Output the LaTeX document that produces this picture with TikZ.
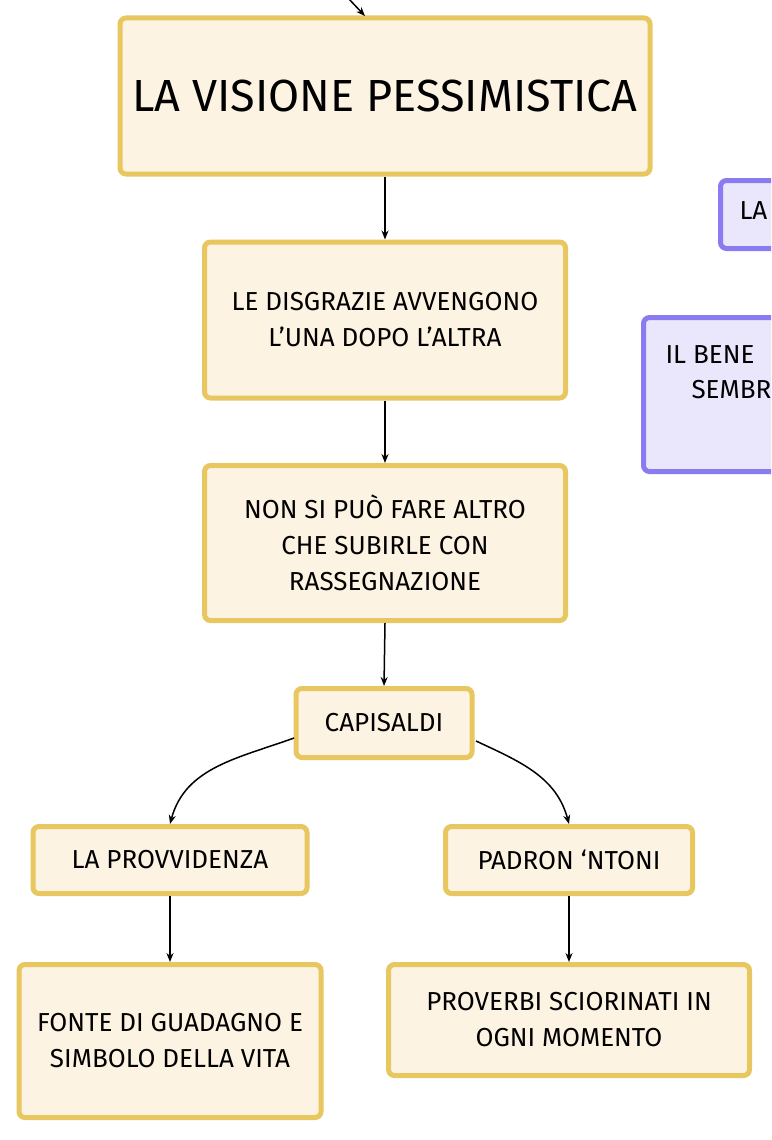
\documentclass[tikz,border=0pt]{standalone}
\usetikzlibrary{arrows.meta}
\usepackage{fontspec}
\setmainfont{Fira Sans}
\begin{document}
\begin{tikzpicture}[x=1pt,y=-1pt,
 box/.style={draw=boxline,fill=boxfill,line width=5pt,rounded corners=6pt,align=center,font=\fontsize{26}{36}\selectfont,inner sep=0pt},
 pbox/.style={draw=pline,fill=pfill,line width=5pt,rounded corners=6pt},
 arr/.style={-{Stealth[length=9pt,width=7pt]},line width=1.5pt}]
\definecolor{boxline}{HTML}{E8C660}
\definecolor{boxfill}{HTML}{FDF3E3}
\definecolor{pline}{HTML}{8B7BF0}
\definecolor{pfill}{HTML}{EAE6FB}
\useasboundingbox (0,0) rectangle (771,1140);
\clip (0,0) rectangle (771,1140);
\node[box,minimum width=530pt,minimum height=156pt,font=\fontsize{45}{50}\selectfont] (t) at (385,96) {LA VISIONE PESSIMISTICA};
\node[box,minimum width=361pt,minimum height=156pt] (b2) at (385,320) {LE DISGRAZIE AVVENGONO\\L'UNA DOPO L'ALTRA};
\node[box,minimum width=361pt,minimum height=155pt] (b3) at (385,543) {NON SI PUÒ FARE ALTRO\\CHE SUBIRLE CON\\RASSEGNAZIONE};
\node[box,minimum width=176pt,minimum height=69pt] (c) at (384,723) {CAPISALDI};
\node[box,minimum width=274pt,minimum height=67pt] (p) at (170,860) {LA PROVVIDENZA};
\node[box,minimum width=247pt,minimum height=67pt] (n) at (569,860) {PADRON ‘NTONI};
\node[box,minimum width=302pt,minimum height=153pt] (f) at (170,1041) {FONTE DI GUADAGNO E\\SIMBOLO DELLA VITA};
\node[box,minimum width=361pt,minimum height=111pt] (v) at (569,1020) {PROVERBI SCIORINATI IN\\OGNI MOMENTO};
\node[pbox,minimum width=100pt,minimum height=68pt,anchor=north west] (l1) at (718,178) {};
\node[anchor=west,font=\fontsize{26}{30}\selectfont] (l1t) at (736,211) {LA};
\node[pbox,minimum width=200pt,minimum height=154pt,anchor=north west] (l2) at (641,315) {};
\node[anchor=west,font=\fontsize{26}{30}\selectfont] (l2a) at (662,355) {IL BENE};
\node[anchor=west,font=\fontsize{26}{30}\selectfont] (l2b) at (688,390) {SEMBR};
\coordinate (top) at (348,-2);
\coordinate (tt) at (365,16);
\draw[arr] (top) -- (tt);
\draw[arr] (t) -- (b2);
\draw[arr] (b2) -- (b3);
\draw[arr] (b3.south) -- (c.north);
\coordinate (cl) at (294,738);
\coordinate (cr) at (476,741);
\draw[arr] (cl) to[out=200,in=75] (p.north);
\draw[arr] (cr) to[out=-25,in=105] (n.north);
\draw[arr] (p) -- (f);
\draw[arr] (n) -- (v);
\end{tikzpicture}
\end{document}
